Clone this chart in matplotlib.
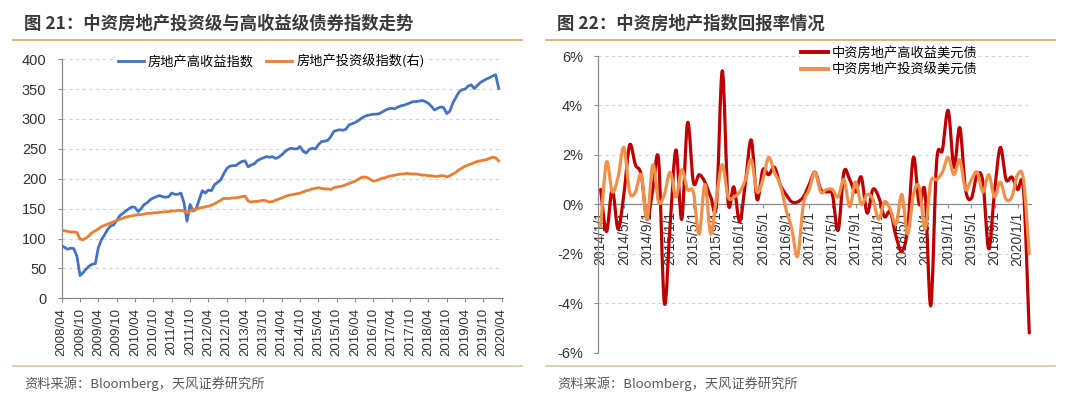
import matplotlib
matplotlib.use('Agg')
import matplotlib.pyplot as plt
from matplotlib.lines import Line2D
from matplotlib.path import Path
from matplotlib.patches import PathPatch

CJK = ['Noto Sans CJK SC', 'DejaVu Sans']
NUM = ['Liberation Sans', 'DejaVu Sans']

# ---- left chart: monthly index levels, 2008/04 .. 2020/03
hy_index = [88, 85, 82, 84, 83, 70, 38, 43, 49, 54,
            57, 58, 85, 98, 106, 115, 121, 123, 130, 138,
            142, 146, 150, 153, 152, 145, 150, 157, 160, 165,
            168, 170, 172, 170, 169, 170, 176, 174, 174, 176,
            160, 129, 157, 146, 150, 165, 180, 176, 181, 180,
            190, 194, 198, 208, 217, 221, 222, 222, 226, 229,
            230, 220, 223, 225, 230, 233, 235, 237, 236, 237,
            234, 236, 240, 245, 249, 251, 250, 250, 254, 246,
            243, 249, 251, 250, 257, 262, 263, 264, 270, 279,
            281, 282, 281, 283, 290, 292, 294, 297, 301, 304,
            306, 307, 308, 308, 309, 312, 315, 317, 318, 317,
            320, 322, 323, 325, 327, 329, 329, 330, 331, 329,
            326, 321, 315, 318, 320, 319, 309, 313, 327, 336,
            345, 349, 350, 355, 357, 351, 356, 361, 364, 367,
            369, 372, 374, 351]
ig_index = [114, 113, 112, 111, 111, 110, 99, 98, 101, 105,
            110, 113, 116, 120, 122, 124, 126, 128, 130, 132,
            134, 136, 137, 138, 139, 140, 140, 141, 142, 142,
            143, 143, 144, 144, 145, 145, 146, 146, 147, 147,
            146, 143, 146, 148, 149, 151, 152, 153, 154, 156,
            158, 161, 164, 167, 167, 167, 168, 168, 169, 170,
            171, 163, 161, 162, 162, 163, 164, 163, 161, 162,
            164, 166, 168, 170, 172, 173, 174, 175, 176, 178,
            180, 181, 183, 184, 185, 184, 183, 183, 182, 185,
            186, 187, 188, 190, 192, 194, 196, 199, 202, 203,
            202, 199, 196, 197, 199, 201, 202, 204, 205, 206,
            207, 208, 208, 209, 208, 208, 208, 207, 206, 206,
            205, 205, 204, 204, 205, 205, 203, 205, 208, 211,
            215, 218, 221, 223, 225, 227, 229, 230, 231, 232,
            234, 236, 235, 230]
left_ticklabels = ['2008/04', '2008/10', '2009/04', '2009/10', '2010/04', '2010/10',
                   '2011/04', '2011/10', '2012/04', '2012/10', '2013/04', '2013/10',
                   '2014/04', '2014/10', '2015/04', '2015/10', '2016/04', '2016/10',
                   '2017/04', '2017/10', '2018/04', '2018/10', '2019/04', '2019/10',
                   '2020/04']

# ---- right chart: monthly returns (%), 2014/01 .. 2020/03
hy_return = [0.6, -1.1, 0.6, -1.0, 0.4, 2.4, 1.6, 1.2, -0.6, 0.6,
             1.8, -4.0, -0.8, 2.2, -0.6, 3.3, 0.9, 1.2, 0.9, 0.3,
             0.0, 5.4, 0.1, 0.7, -0.7, 0.9, 2.6, 0.2, 1.4, 1.2,
             1.5, 0.8, 0.4, 0.1, 0.1, 0.3, 0.8, 1.3, 0.6, 0.5,
             0.4, -1.05, 1.3, 1.0, 0.5, 1.1, -0.35, 0.6, 0.3, -0.5,
             -0.3, -1.3, -1.9, -1.0, 1.9, 0.0, 0.5, -4.1, 1.7, 2.2,
             3.8, 1.5, 3.1, 0.6, 0.25, 1.2, 0.9, -1.8, 0.5, 2.3,
             1.0, 1.1, 0.6, 0.6, -5.2]
ig_return = [-0.9, 1.7, 0.5, 1.1, 2.3, 0.5, 0.5, 1.2, -0.6, 1.6,
             0.1, 0.4, 1.3, 0.3, 1.4, 0.6, 0.5, -1.2, 0.8, -1.2,
             0.3, 1.6, 0.3, 0.3, 0.5, 1.0, 1.8, 0.5, 1.0, 1.9,
             1.3, 0.8, -0.2, -1.0, -2.1, 0.0, 0.6, 1.3, 0.5, 0.6,
             0.6, 0.3, 1.0, -0.1, 0.9, 0.0, 0.4, 0.2, -0.6, 0.1,
             -0.2, -0.8, 0.4, -1.2, 0.4, 0.7, -1.0, 0.9, 1.0, 1.3,
             1.9, 1.2, 1.8, 0.6, 1.0, 1.3, 0.5, 1.2, 0.3, 0.9,
             0.2, 0.3, 1.2, 1.0, -2.0]
right_ticklabels = ['2014/1/1', '2014/5/1', '2014/9/1', '2015/1/1', '2015/5/1',
                    '2015/9/1', '2016/1/1', '2016/5/1', '2016/9/1', '2017/1/1',
                    '2017/5/1', '2017/9/1', '2018/1/1', '2018/5/1', '2018/9/1',
                    '2019/1/1', '2019/5/1', '2019/9/1', '2020/1/1']


def smooth_path(xs, ys):
    # Excel-style smoothed line: cubic bezier through every point
    n = len(xs)
    verts = [(xs[0], ys[0])]
    codes = [Path.MOVETO]
    for k in range(n - 1):
        a, b = max(k - 1, 0), min(k + 2, n - 1)
        c1 = (xs[k] + (xs[k + 1] - xs[a]) / 6, ys[k] + (ys[k + 1] - ys[a]) / 6)
        c2 = (xs[k + 1] - (xs[b] - xs[k]) / 6, ys[k + 1] - (ys[b] - ys[k]) / 6)
        verts += [c1, c2, (xs[k + 1], ys[k + 1])]
        codes += [Path.CURVE4] * 3
    return Path(verts, codes)


W, H = 1080, 399
fig = plt.figure(figsize=(W / 100, H / 100), dpi=100)
fig.patch.set_facecolor('white')

gold = '#E0AE72'
gold_light = '#E4CB9F'
axis_grey = '#8C8C8C'
grid_grey = '#D4D4D4'
text_dark = '#333333'

# headers and footers
for x0, x1, title in [(13, 522, '图 21：中资房地产投资级与高收益级债券指数走势'),
                      (546, 1055, '图 22：中资房地产指数回报率情况')]:
    fig.add_artist(Line2D([x0 / W, x1 / W], [1 - 40 / H] * 2, color=gold, lw=1.3))
    fig.add_artist(Line2D([x0 / W, x1 / W], [1 - 366 / H] * 2, color=gold_light, lw=1.3))
    fig.text((x0 + 11) / W, 1 - 24 / H, title, family=CJK, fontsize=12.5,
             fontweight='bold', color='#3A3A3A', va='center', ha='left')
    fig.text((x0 + 11) / W, 1 - 384 / H, '资料来源：Bloomberg，天风证券研究所', family=CJK,
             fontsize=9.5, color='#595959', va='center', ha='left')

# ---- left chart
ax1 = fig.add_axes([61.7 / W, 1 - 298.3 / H, 441.3 / W, 239.1 / H])
months = list(range(len(hy_index)))
ax1.plot(months, hy_index, color='#4472C4', lw=2.0, label='房地产高收益指数', zorder=3)
ax1.plot(months, ig_index, color='#ED7D31', lw=2.0, label='房地产投资级指数(右)', zorder=3)
ax1.set_xlim(0, 144.4)
ax1.set_ylim(0, 400)
ax1.set_yticks(range(0, 401, 50))
ax1.set_xticks(range(0, 145, 6))
ax1.set_xticklabels(left_ticklabels, rotation=90, family=NUM, fontsize=9.5, color=text_dark)
for t in ax1.get_yticklabels():
    t.set_family(NUM)
ax1.tick_params(axis='y', labelsize=10.5, colors=text_dark, length=3, width=0.8, pad=8)
ax1.tick_params(axis='x', length=3, width=0.8, pad=4, color=axis_grey)
ax1.tick_params(axis='y', color=axis_grey)
ax1.grid(axis='y', color=grid_grey, ls=(0, (3, 3)), lw=0.8)
ax1.set_axisbelow(True)
for s in ['top', 'right']:
    ax1.spines[s].set_visible(False)
for s in ['left', 'bottom']:
    ax1.spines[s].set_color(axis_grey)
    ax1.spines[s].set_linewidth(0.9)
leg1 = ax1.legend(loc='center', bbox_to_anchor=(271 / W, 1 - 61 / H), bbox_transform=fig.transFigure,
                  ncol=2, frameon=True, prop={'family': CJK, 'size': 9.5}, handlelength=2.0,
                  handletextpad=0.3, columnspacing=0.9, borderpad=0.1, fancybox=False)
leg1.get_frame().set_facecolor('white')
leg1.get_frame().set_edgecolor('none')

# ---- right chart
ax2 = fig.add_axes([598.3 / W, 1 - 352.7 / H, 432.7 / W, 296.7 / H])
for s in ['top', 'right']:
    ax2.spines[s].set_visible(False)
ax2.spines['bottom'].set_position(('data', 0))
for s in ['left', 'bottom']:
    ax2.spines[s].set_color(axis_grey)
    ax2.spines[s].set_linewidth(0.9)
idx = list(range(len(hy_return)))
ax2.add_patch(PathPatch(smooth_path(idx, hy_return), fill=False, edgecolor='#C00000', lw=2.3,
                        capstyle='round', joinstyle='round', zorder=3))
ax2.add_patch(PathPatch(smooth_path(idx, ig_return), fill=False, edgecolor='#F0904A', lw=2.3,
                        capstyle='round', joinstyle='round', zorder=4))
ax2.set_xlim(-0.41, 74.3)
ax2.set_ylim(-6, 6)
ax2.set_yticks(range(-6, 7, 2))
ax2.set_yticklabels(['%d%%' % v for v in range(-6, 7, 2)], family=NUM, fontsize=10.5, color=text_dark)
ax2.set_xticks(range(0, 73, 4))
ax2.set_xticklabels(right_ticklabels, rotation=90, family=NUM, fontsize=10, color=text_dark)
ax2.tick_params(axis='y', length=3, width=0.8, pad=8, color=axis_grey)
ax2.tick_params(axis='x', length=3, width=0.8, pad=2, color=axis_grey)
ax2.grid(axis='y', color=grid_grey, ls=(0, (3, 3)), lw=0.8)
ax2.set_axisbelow(True)
handles = [Line2D([], [], color='#C00000', lw=2.8), Line2D([], [], color='#F0904A', lw=2.8)]
leg2 = ax2.legend(handles, ['中资房地产高收益美元债', '中资房地产投资级美元债'], loc='upper left',
                  bbox_to_anchor=(800 / W, 1 - 45 / H), bbox_transform=fig.transFigure,
                  frameon=True, prop={'family': CJK, 'size': 9.5}, handlelength=2.0,
                  handletextpad=0.3, labelspacing=0.3, borderpad=0.1, borderaxespad=0,
                  fancybox=False)
leg2.get_frame().set_facecolor('white')
leg2.get_frame().set_edgecolor('none')

fig.savefig('out.png', dpi=100, facecolor='white')
